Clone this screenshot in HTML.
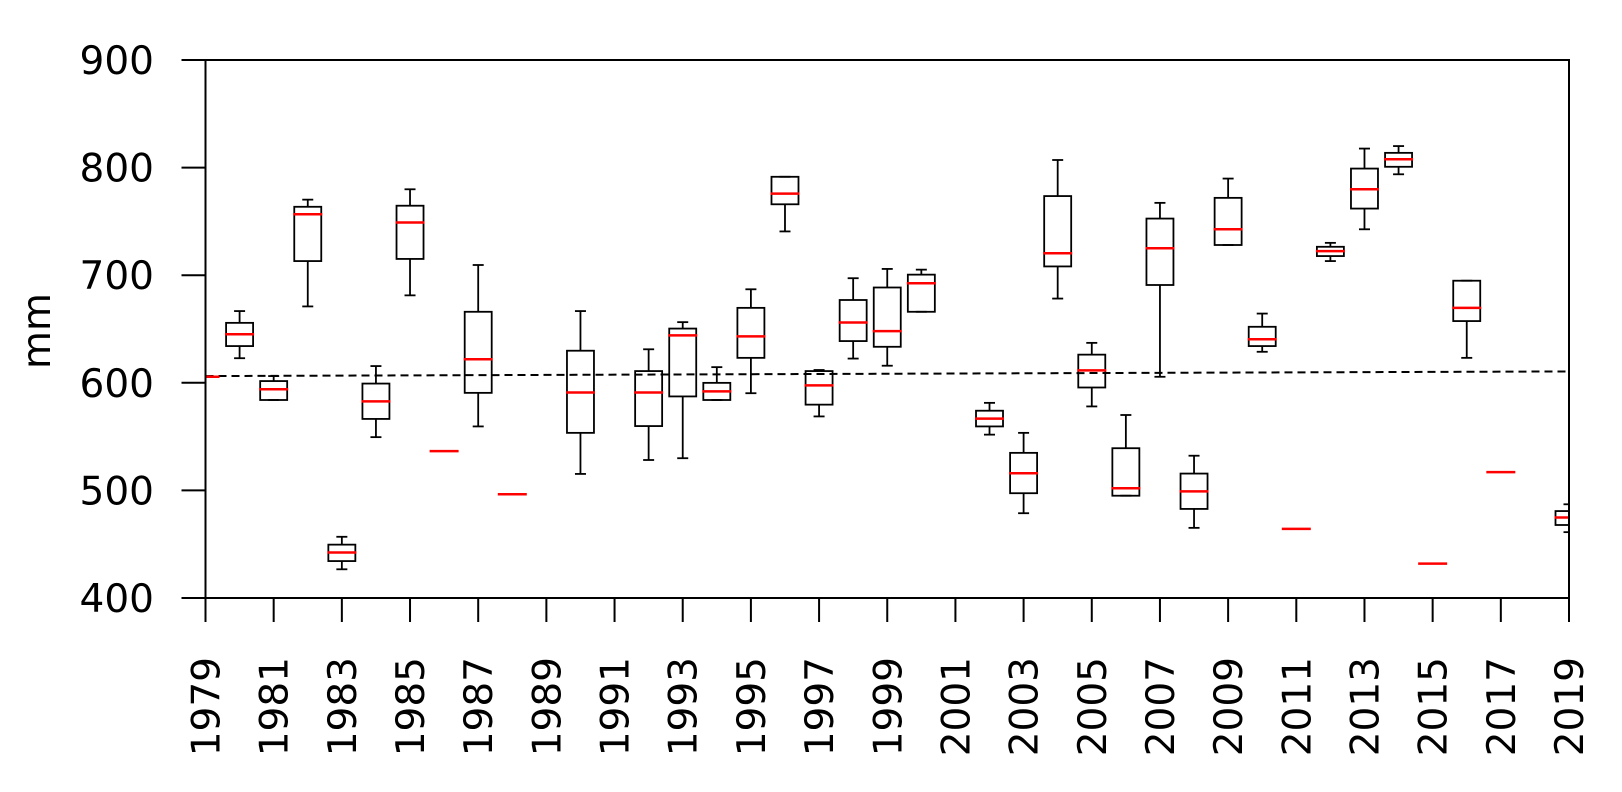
<!DOCTYPE html>
<html><head><meta charset="utf-8"><style>
html,body{margin:0;padding:0;background:#fff}
svg{display:block}
text{font-family:"DejaVu Sans","Liberation Sans",sans-serif;fill:#000}
</style></head><body>
<svg id="s" width="1622" height="792" xmlns="http://www.w3.org/2000/svg">
<rect x="0" y="0" width="1622" height="792" fill="#fff"/>
<g id="g"></g>
</svg>
<script>
var NS="http://www.w3.org/2000/svg",g=document.getElementById('g');
function el(t,a,p){var e=document.createElementNS(NS,t);for(var k in a)e.setAttribute(k,a[k]);(p||g).appendChild(e);return e;}
var X0=205.5,X1=1569,Y0=60,Y1=598;
function yx(yr){return X0+(X1-X0)*(yr-1979)/40;}
function zy(v){return 40+v/2.8;}
function vy(v){return Y1-(v-400)*(Y1-Y0)/500;}
// clip
var defs=el('defs',{});var cp=el('clipPath',{id:'c'},defs);el('rect',{x:X0,y:Y0,width:X1-X0,height:Y1-Y0},cp);
var pg=el('g',{'clip-path':'url(#c)'});
el('line',{x1:X0,y1:zy(941),x2:X1,y2:zy(928),stroke:'#000','stroke-width':2,'stroke-dasharray':'8,5'},pg);
var D={
1980:[759,792,824,857,891],1981:[941,955,978,1008,1008],1982:[447,467,488,619,746],
1983:[1391,1413,1435,1459,1482],1984:[913,962,1012,1061,1112],1985:[418,464,511,613,715],
1986:[null,null,1151],1987:[630,761,894,988,1082],1988:[null,null,1272],
1990:[759,870,987,1100,1215],1992:[866,927,987,1081,1176],1993:[790,808,827,998,1171],
1994:[916,960,984,1008,1008],1995:[698,750,830,890,989],1996:[383,383,430,460,536],
1997:[924,927,967,1021,1054],1998:[667,728,791,843,892],1999:[641,693,815,859,912],
2000:[643,657,681,761,761],2002:[1016,1038,1060,1082,1105],2003:[1100,1156,1213,1269,1325],
2004:[336,437,597,634,724],2005:[848,881,925,973,1026],2006:[1050,1143,1255,1276,1276],
2007:[456,500,583,686,943],2008:[1164,1214,1264,1313,1366],2009:[388,442,530,574,574],
2010:[766,803,838,857,873],2011:[null,null,1369],2012:[568,579,591,605,619],
2013:[304,360,418,472,530],2014:[297,316,334,355,376],2015:[null,null,1466],
2016:[674,674,750,787,890],2017:[null,null,1210],2019:[1300,1319,1337,1358,1378]};
el('line',{x1:X0-14,x2:X0+14,y1:zy(943),y2:zy(943),stroke:'#f00','stroke-width':2.5},pg);
var W=27,C=11;
for(var k in D){var d=D[k],x=yx(+k);
 if(d[0]!=null){
  var s={stroke:'#000','stroke-width':1.8,fill:'none'};
  function L(a,b,c,e){var o={x1:a,y1:b,x2:c,y2:e};for(var q in s)o[q]=s[q];el('line',o,pg);}
  L(x,zy(d[0]),x,zy(d[1]));L(x,zy(d[3]),x,zy(d[4]));
  L(x-C/2,zy(d[0]),x+C/2,zy(d[0]));L(x-C/2,zy(d[4]),x+C/2,zy(d[4]));
  el('rect',{x:x-W/2,y:zy(d[1]),width:W,height:Math.max(zy(d[3])-zy(d[1]),0.5),fill:'none',stroke:'#000','stroke-width':1.8},pg);
 }
 el('line',{x1:x-14.5,x2:x+14.5,y1:zy(d[2]),y2:zy(d[2]),stroke:'#f00','stroke-width':2.5},pg);
}
el('rect',{x:X0,y:Y0,width:X1-X0,height:Y1-Y0,fill:'none',stroke:'#000','stroke-width':2});
for(var v=400;v<=900;v+=100){var y=vy(v);
 el('line',{x1:X0-24,x2:X0,y1:y,y2:y,stroke:'#000','stroke-width':2});
 var t=el('text',{x:154,y:y+14,'text-anchor':'end','font-size':39});t.textContent=v;}
for(var yr=1979;yr<=2019;yr+=2){var x=yx(yr);
 el('line',{x1:x,x2:x,y1:Y1,y2:Y1+24,stroke:'#000','stroke-width':2});
 var t=el('text',{transform:'translate('+(x+14)+',657) rotate(-90)','text-anchor':'end','font-size':39});t.textContent=yr;}
var t=el('text',{transform:'translate(50,331) rotate(-90)','text-anchor':'middle','font-size':39});t.textContent='mm';
</script>
</body></html>
